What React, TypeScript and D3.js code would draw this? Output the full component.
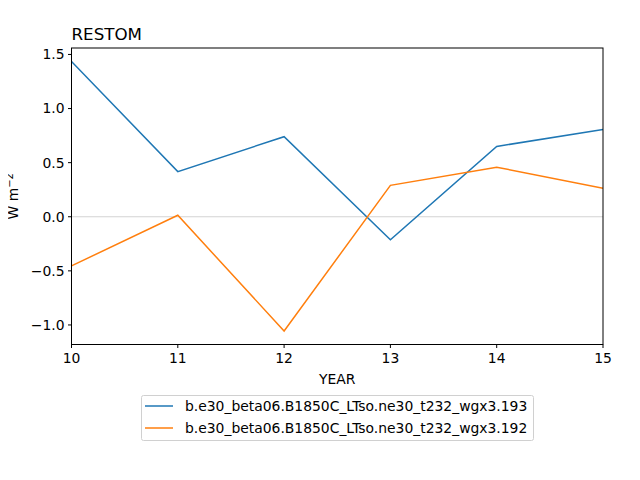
import React from 'react';
import * as d3 from 'd3';

const years = [10, 11, 12, 13, 14, 15];
const run193 = [1.435, 0.417, 0.74, -0.213, 0.65, 0.806];
const run192 = [-0.454, 0.014, -1.056, 0.29, 0.458, 0.264];
const yTicks = [-1.0, -0.5, 0.0, 0.5, 1.0, 1.5];
const seriesNames = [
  'b.e30_beta06.B1850C_LTso.ne30_t232_wgx3.193',
  'b.e30_beta06.B1850C_LTso.ne30_t232_wgx3.192',
];
const colors = ['#1f77b4', '#ff7f0e'];

export default function App() {
  const W = 640, H = 480;
  const m = { left: 71.5, right: 603, top: 48, bottom: 344.5 };

  const all = [...run193, ...run192];
  const lo = d3.min(all)!, hi = d3.max(all)!;
  const pad = (hi - lo) * 0.05;

  const x = d3.scaleLinear().domain([10, 15]).range([m.left, m.right]);
  const y = d3.scaleLinear().domain([lo - pad, hi + pad]).range([m.bottom, m.top]);

  const line = d3.line<number>().x((_, i) => x(years[i])).y(d => y(d));
  const series = [run193, run192];
  const font = 'DejaVu Sans, sans-serif';
  const fmt = d3.format('.1f');

  return (
    <div style={{ margin: -8 }}>
      <svg width={W} height={H} style={{ display: 'block', background: '#fff' }} fontFamily={font}>
        <line x1={m.left} x2={m.right} y1={y(0)} y2={y(0)} stroke="#d3d3d3" strokeWidth={1.1} />
        <defs>
          <clipPath id="plot">
            <rect x={m.left} y={m.top} width={m.right - m.left} height={m.bottom - m.top} />
          </clipPath>
        </defs>
        <g clipPath="url(#plot)">
          {series.map((s, i) => (
            <path key={i} d={line(s)!} fill="none" stroke={colors[i]} strokeWidth={1.5} />
          ))}
        </g>
        <rect x={m.left} y={m.top} width={m.right - m.left} height={m.bottom - m.top}
          fill="none" stroke="#000" strokeWidth={1} />
        {years.map(t => (
          <g key={t}>
            <line x1={x(t)} x2={x(t)} y1={m.bottom} y2={m.bottom + 3.5} stroke="#000" />
            <text x={x(t)} y={m.bottom + 18} textAnchor="middle" fontSize={13.9}>{t}</text>
          </g>
        ))}
        {yTicks.map(t => (
          <g key={t}>
            <line x1={m.left - 3.5} x2={m.left} y1={y(t)} y2={y(t)} stroke="#000" />
            <text x={m.left - 7} y={y(t)} dy="0.35em" textAnchor="end" fontSize={13.9}>
              {fmt(t).replace('-', '\u2212')}
            </text>
          </g>
        ))}
        <text x={(m.left + m.right) / 2} y={384} textAnchor="middle" fontSize={13.9}>YEAR</text>
        <text transform={`translate(18,${(m.top + m.bottom) / 2}) rotate(-90)`} textAnchor="middle" fontSize={13.9}>
          <tspan>W m</tspan>
          <tspan dy={-5} fontSize={10}>−2</tspan>
        </text>
        <text x={m.left} y={40} fontSize={16.7}>RESTOM</text>
        <rect x={141.5} y={395.5} width={392} height={45} rx={2} fill="#fff" stroke="#d0d0d0" />
        {seriesNames.map((n, i) => (
          <g key={n}>
            <line x1={145} x2={173} y1={406 + i * 22} y2={406 + i * 22} stroke={colors[i]} strokeWidth={1.5} />
            <text x={185} y={406 + i * 22} dy="0.35em" fontSize={13.9}>{n}</text>
          </g>
        ))}
      </svg>
    </div>
  );
}
